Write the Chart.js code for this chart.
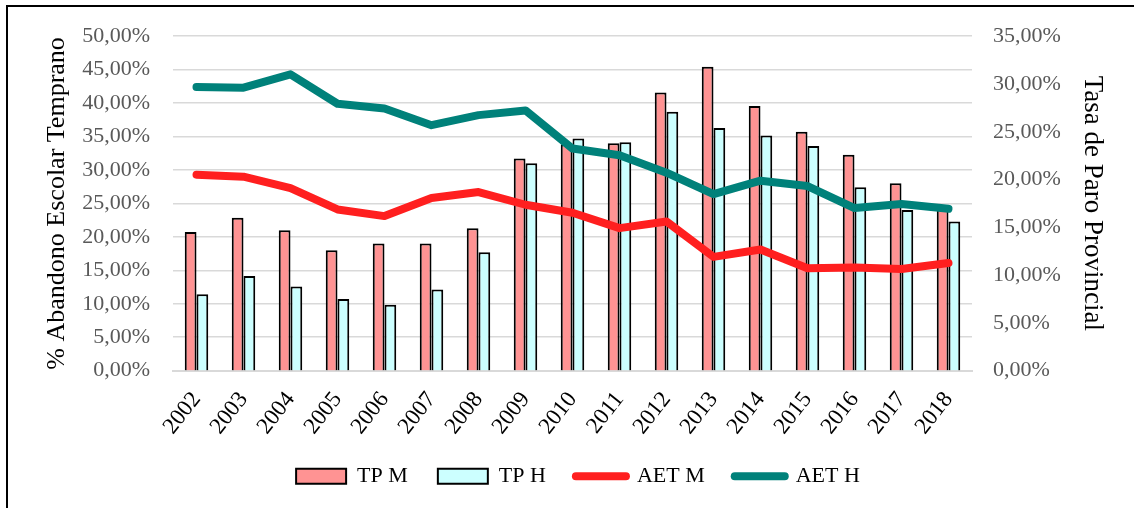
<!DOCTYPE html>
<html>
<head>
<meta charset="utf-8">
<script src="https://cdn.jsdelivr.net/npm/chart.js@4.4.1/dist/chart.umd.min.js"></script>
<style>
  html, body { margin: 0; padding: 0; background: #fff; overflow: hidden; }
  #wrap { position: relative; width: 1134px; height: 508px; }
  #frame {
    position: absolute; left: 6px; top: 5px; width: 2000px; height: 2000px;
    border-left: 2px solid #000; border-top: 2px solid #000; pointer-events: none;
  }
</style>
</head>
<body>
<div id="wrap">
  <canvas id="chart" width="1134" height="508"></canvas>
  <div id="frame"></div>
</div>
<script>
// years on the x axis
const years = ['2002', '2003', '2004', '2005', '2006', '2007', '2008', '2009', '2010',
  '2011', '2012', '2013', '2014', '2015', '2016', '2017', '2018'];

// Tasa de Paro (right axis, %)
const tpM = [14.5, 16.0, 14.7, 12.6, 13.3, 13.3, 14.9, 22.2, 23.7, 23.8, 29.1, 31.8, 27.7, 25.0, 22.6, 19.6, 17.3];
const tpH = [8.0, 9.9, 8.8, 7.5, 6.9, 8.5, 12.4, 21.7, 24.3, 23.9, 27.1, 25.4, 24.6, 23.5, 19.2, 16.8, 15.6];

// Abandono Escolar Temprano (left axis, %)
const aetM = [29.3, 29.0, 27.3, 24.1, 23.1, 25.8, 26.7, 24.8, 23.6, 21.3, 22.3, 17.0, 18.1, 15.3, 15.4, 15.2, 16.1];
const aetH = [42.4, 42.3, 44.3, 39.9, 39.2, 36.7, 38.2, 38.9, 33.2, 32.2, 29.6, 26.4, 28.4, 27.6, 24.3, 24.9, 24.2];

const SERIF = "'Liberation Serif', 'Times New Roman', serif";
const pct = v => v.toFixed(2).replace('.', ',') + '%';

Chart.defaults.font.family = SERIF;

const data = {
    labels: years,
    datasets: [
        {
            type: 'bar', label: 'TP M', data: tpM, yAxisID: 'y1', order: 1,
            backgroundColor: '#FF9393', borderColor: '#000', borderWidth: 2,
            categoryPercentage: 0.5, barPercentage: 1.0
        },
        {
            type: 'bar', label: 'TP H', data: tpH, yAxisID: 'y1', order: 1,
            backgroundColor: '#CCFFFF', borderColor: '#000', borderWidth: 2,
            categoryPercentage: 0.5, barPercentage: 1.0
        },
        {
            type: 'line', label: 'AET M', data: aetM, yAxisID: 'y', order: 0,
            borderColor: '#FF1F1F', backgroundColor: '#FF1F1F', borderWidth: 8,
            borderCapStyle: 'round', borderJoinStyle: 'round', pointRadius: 0, tension: 0
        },
        {
            type: 'line', label: 'AET H', data: aetH, yAxisID: 'y', order: 0,
            borderColor: '#00817A', backgroundColor: '#00817A', borderWidth: 8,
            borderCapStyle: 'round', borderJoinStyle: 'round', pointRadius: 0, tension: 0
        }
    ]
};

const config = {
    data: data,
    options: {
        responsive: false,
        animation: false,
        layout: { padding: { top: 35, left: 40, right: 18, bottom: 10.7 } },
        plugins: {
            tooltip: { enabled: false },
            legend: {
                position: 'bottom',
                labels: {
                    usePointStyle: true,
                    pointStyleWidth: 50,
                    boxHeight: 15,
                    padding: 30,
                    color: '#000',
                    font: { size: 22 },
                    generateLabels: chart => chart.data.datasets.map((ds, i) => ({
                        text: ds.label,
                        datasetIndex: i,
                        fillStyle: ds.backgroundColor,
                        strokeStyle: ds.type === 'line' ? ds.borderColor : '#000',
                        lineWidth: ds.type === 'line' ? 8 : 2,
                        lineCap: 'round',
                        pointStyle: ds.type === 'line' ? 'line' : 'rect',
                        hidden: false,
                        fontColor: '#000'
                    }))
                }
            }
        },
        scales: {
            x: {
                grid: { display: false, drawTicks: false },
                border: { display: true, color: '#D9D9D9', width: 2 },
                ticks: {
                    color: '#000', font: { size: 23 }, padding: 16,
                    autoSkip: false, minRotation: 52, maxRotation: 52
                },
                afterFit: s => { s.height = 64.7; }
            },
            y: {
                position: 'left', min: 0, max: 50,
                grid: { color: '#D9D9D9', lineWidth: 1.5, drawTicks: false },
                border: { display: false },
                ticks: { stepSize: 5, color: '#595959', font: { size: 22 }, padding: 23, callback: v => pct(v) },
                title: {
                    display: true, text: '% Abandono Escolar Temprano', color: '#000',
                    font: { size: 26 }, padding: { top: 2, bottom: 0 }
                },
                afterFit: s => { s.width = 133; }
            },
            y1: {
                position: 'right', min: 0, max: 35,
                grid: { display: false, drawTicks: false },
                border: { display: false },
                ticks: { stepSize: 5, color: '#595959', font: { size: 22 }, padding: 21, callback: v => pct(v) },
                title: {
                    display: true, text: 'Tasa de Paro Provincial', color: '#000',
                    font: { size: 27 }, padding: { top: 8, bottom: 0 }
                },
                afterFit: s => { s.width = 144; }
            }
        }
    }
};

new Chart(document.getElementById('chart'), config);
</script>
</body>
</html>
